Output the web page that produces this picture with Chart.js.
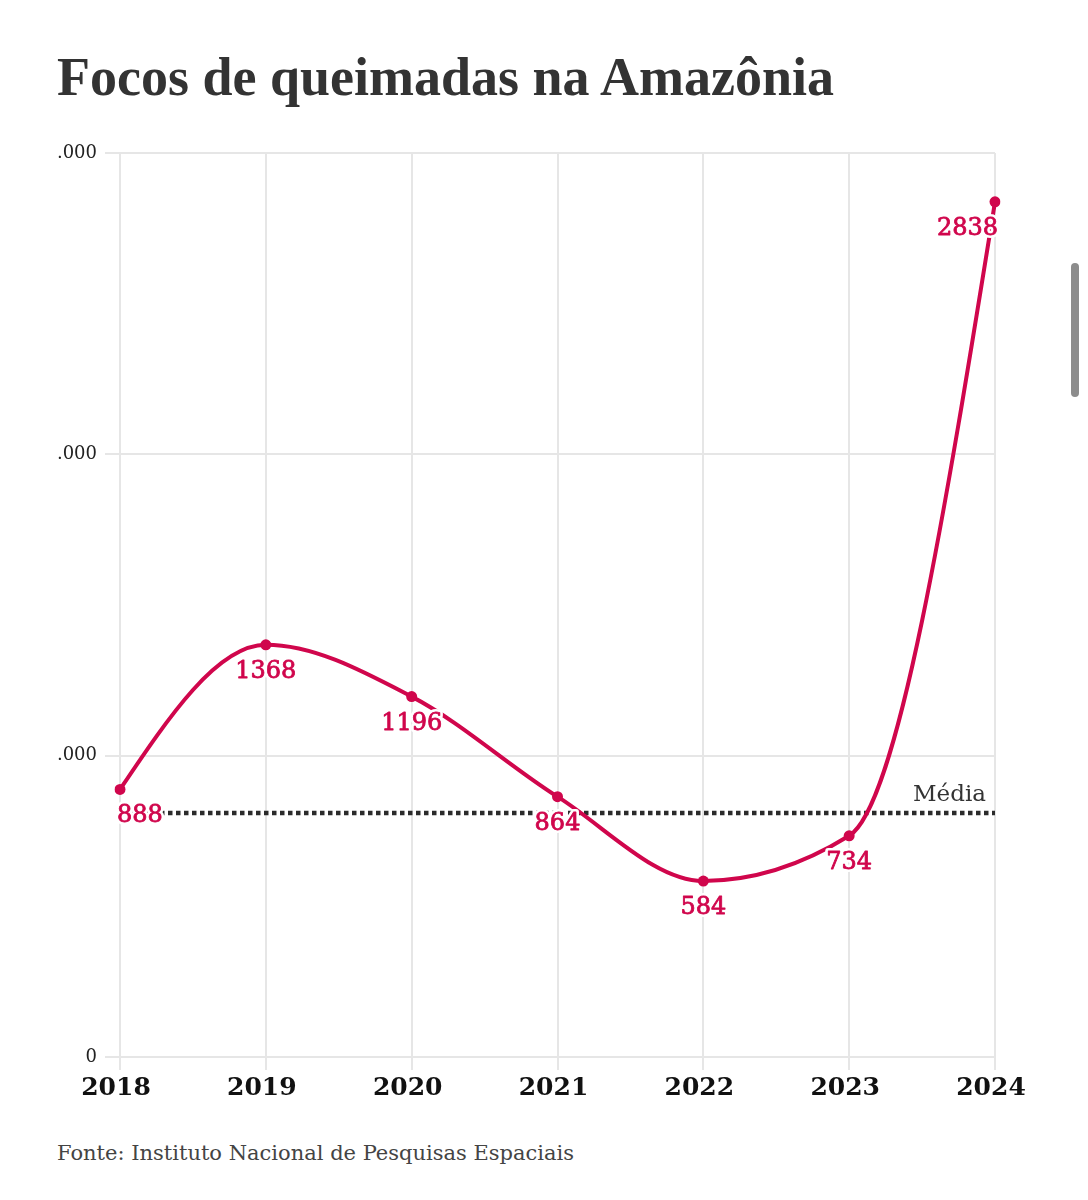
<!DOCTYPE html>
<html>
<head>
<meta charset="utf-8">
<script src="https://cdn.jsdelivr.net/npm/chart.js@4.4.1/dist/chart.umd.min.js"></script>
<style>
  html, body { margin: 0; padding: 0; background: #fff; width: 1088px; height: 1200px; overflow: hidden; }
  #title { position: absolute; left: 57px; top: 45px; font-family: "Liberation Serif", serif; font-weight: bold; font-size: 54px; color: #333; white-space: nowrap; margin: 0; line-height: 1.2; }
  #source { position: absolute; left: 57px; top: 1141px; font-family: "DejaVu Serif", serif; font-size: 21px; color: #444; white-space: nowrap; }
  #clip { position: absolute; left: 57px; top: 0; width: 1031px; height: 1130px; overflow: hidden; }
  #wrap { position: absolute; left: -57px; top: 0; width: 1088px; height: 1130px; }
  #scroll { position: absolute; left: 1071px; top: 263px; width: 8px; height: 134px; background: #8c8c8c; border-radius: 4px; }
</style>
</head>
<body>
<div id="title">Focos de queimadas na Amazônia</div>
<div id="clip"><div id="wrap"><canvas id="c" width="1088" height="1130"></canvas></div></div>
<div id="source">Fonte: Instituto Nacional de Pesquisas Espaciais</div>
<div id="scroll"></div>
<script>
const years = ['2018', '2019', '2020', '2021', '2022', '2023', '2024'];
const focos = [888, 1368, 1196, 864, 584, 734, 2838];
const media = [810, 810, 810, 810, 810, 810, 810];
const mediaLabel = 'Média';
const yTickValues = [0, 1000, 2000, 3000];
const yTickLabels = ['0', '1.000', '2.000', '3.000'];

const RED = '#d0064c';

// d3-style monotoneX control points on the pixel positions Chart.js computed
const monotoneX = {
  id: 'monotoneX',
  beforeDatasetDraw(chart, args) {
    if (args.index !== 0) return;
    const meta = args.meta;
    const line = meta.dataset;
    line.updateControlPoints(chart.chartArea, 'x');
    const pts = meta.data;
    const n = pts.length;
    const sgn = v => (v < 0 ? -1 : 1);
    const s = [], h = [];
    for (let i = 0; i < n - 1; i++) {
      h[i] = pts[i + 1].x - pts[i].x;
      s[i] = (pts[i + 1].y - pts[i].y) / h[i];
    }
    const t = new Array(n).fill(0);
    for (let i = 1; i < n - 1; i++) {
      const p = (s[i - 1] * h[i] + s[i] * h[i - 1]) / (h[i - 1] + h[i]);
      t[i] = (sgn(s[i - 1]) + sgn(s[i])) * Math.min(Math.abs(s[i - 1]), Math.abs(s[i]), 0.5 * Math.abs(p)) || 0;
    }
    t[0] = (3 * s[0] - t[1]) / 2;
    t[n - 1] = (3 * s[n - 2] - t[n - 2]) / 2;
    for (let i = 0; i < n; i++) {
      const pt = pts[i];
      const dxPrev = i > 0 ? h[i - 1] / 3 : 0;
      const dxNext = i < n - 1 ? h[i] / 3 : 0;
      pt.cp1x = pt.x - dxPrev; pt.cp1y = pt.y - dxPrev * t[i];
      pt.cp2x = pt.x + dxNext; pt.cp2y = pt.y + dxNext * t[i];
    }
    line._path = undefined;
  }
};

const labelPlugin = {
  id: 'pointLabels',
  afterDatasetsDraw(chart) {
    const ctx = chart.ctx;
    const meta = chart.getDatasetMeta(0);
    const xs = chart.scales.x, ys = chart.scales.y;
    ctx.save();
    ctx.font = '23px "DejaVu Serif", serif';
    ctx.fillStyle = '#333';
    ctx.textAlign = 'right';
    ctx.textBaseline = 'alphabetic';
    ctx.fillText(mediaLabel, xs.right - 9, ys.getPixelForValue(media[media.length - 1]) - 12);
    ctx.font = '24px "DejaVu Serif", serif';
    ctx.lineJoin = 'round';
    meta.data.forEach((pt, i) => {
      const txt = String(focos[i]);
      let align = 'center', x = pt.x;
      if (i === 0) { align = 'left'; x = pt.x - 3; }
      else if (i === focos.length - 1) { align = 'right'; x = pt.x + 3; }
      ctx.textAlign = align;
      const y = pt.y + 33;
      ctx.strokeStyle = '#fff';
      ctx.lineWidth = 6;
      ctx.strokeText(txt, x, y);
      ctx.fillStyle = RED;
      ctx.fillText(txt, x, y);
      ctx.strokeStyle = RED;
      ctx.lineWidth = 0.8;
      ctx.strokeText(txt, x, y);
    });
    ctx.restore();
  }
};

new Chart(document.getElementById('c'), {
  type: 'line',
  data: {
    labels: years,
    datasets: [
      {
        data: focos,
        borderColor: RED,
        backgroundColor: RED,
        borderWidth: 4,
        pointRadius: 5.5,
        pointBackgroundColor: RED,
        pointBorderWidth: 0,
        cubicInterpolationMode: 'monotone',
        order: 0
      },
      {
        data: media,
        borderColor: '#2b2b2b',
        borderWidth: 4.5,
        borderDash: [4.5, 3.5],
        pointRadius: 0,
        tension: 0,
        order: 1
      }
    ]
  },
  options: {
    responsive: false,
    animation: false,
    devicePixelRatio: 1,
    layout: { padding: { left: 0, right: 93, top: 153, bottom: 0 } },
    plugins: { legend: { display: false }, tooltip: { enabled: false } },
    scales: {
      x: {
        offset: false,
        grid: { color: '#e6e6e6', lineWidth: 2, tickLength: 13, drawTicks: true },
        border: { display: false },
        ticks: { color: '#111', font: { family: '"DejaVu Serif", serif', weight: 'bold', size: 25 }, padding: 3, maxRotation: 0, labelOffset: -4 },
        afterFit(s) { s.height = 1130 - 1057; }
      },
      y: {
        min: 0, max: 3000,
        afterBuildTicks(s) { s.ticks = yTickValues.map(v => ({ value: v })); },
        grid: { color: '#e6e6e6', lineWidth: 2, tickLength: 15 },
        border: { display: false },
        ticks: {
          color: '#222',
          font: { family: '"DejaVu Serif", serif', size: 18 },
          padding: 8,
          callback: (v) => yTickLabels[yTickValues.indexOf(v)]
        },
        afterFit(s) { s.width = 120; }
      }
    }
  },
  plugins: [monotoneX, labelPlugin]
});
</script>
</body>
</html>
